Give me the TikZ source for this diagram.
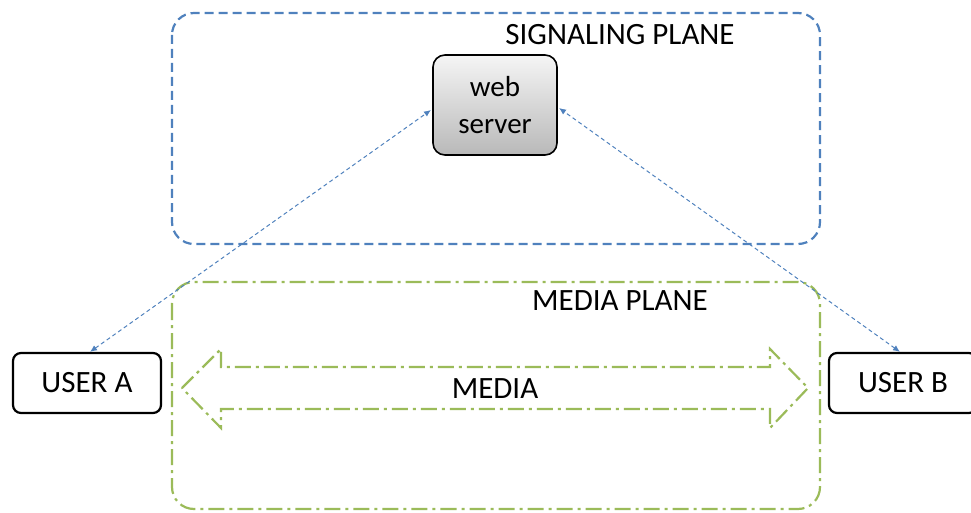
\documentclass[tikz,border=0pt]{standalone}
\usepackage{fontspec}
\setmainfont{Carlito}
\usetikzlibrary{arrows.meta}
\definecolor{ofblue}{RGB}{79,129,189}
\definecolor{ofgreen}{RGB}{155,187,89}
\tikzset{
  x=1pt,y=-1pt,
  plane/.style={rounded corners=22pt,line width=2.2pt},
  userbox/.style={draw=black,line width=2.2pt,rounded corners=8pt,minimum width=148pt,minimum height=60pt,font=\fontsize{31}{36}\selectfont,inner sep=0pt},
  sig/.style={ofblue,dash pattern=on 4pt off 3pt,line width=1pt,{Latex[length=7pt,width=6pt]}-{Latex[length=7pt,width=6pt]}},
  lbl/.style={font=\fontsize{31}{36}\selectfont,inner sep=0pt}
}
\begin{document}
\begin{tikzpicture}
\useasboundingbox (0,0) rectangle (971,513);
% signaling plane
\draw[plane,ofblue,dash pattern=on 9pt off 5pt] (172,13) rectangle (820,244);
\node[lbl] (sigl) at (620,35) {SIGNALING PLANE};
% media plane
\draw[plane,ofgreen,dash pattern=on 16pt off 5pt on 3pt off 5pt] (172,282) rectangle (820,509);
\node[lbl] (medl) at (620,301) {MEDIA PLANE};
% web server
\node[draw=black,line width=1.6pt,rounded corners=12pt,minimum width=124pt,minimum height=100pt,
  top color=gray!8,bottom color=gray!55,align=center,font=\fontsize{29}{37}\selectfont,inner sep=0pt]
  (web) at (495,105) {web\\server};
% users
\node[userbox] (ua) at (87,383) {USER A};
\node[userbox] (ub) at (903,383) {USER B};
% media double arrow
\draw[ofgreen,line width=2.2pt,dash pattern=on 16pt off 5pt on 3pt off 5pt,line join=miter]
  (182,388) -- (221,349) -- (221,367) -- (770,367) -- (770,349) -- (808,388)
  -- (770,428) -- (770,409) -- (221,409) -- (221,428) -- cycle;
\node[lbl] (media) at (495,389) {MEDIA};
% signaling connectors
\coordinate (wa) at (431,110);
\coordinate (wb) at (559,108);
\draw[sig] (ua.north) ++(3,0) -- (wa);
\draw[sig] (ub.north) ++(-3,0) -- (wb);
\end{tikzpicture}
\end{document}
